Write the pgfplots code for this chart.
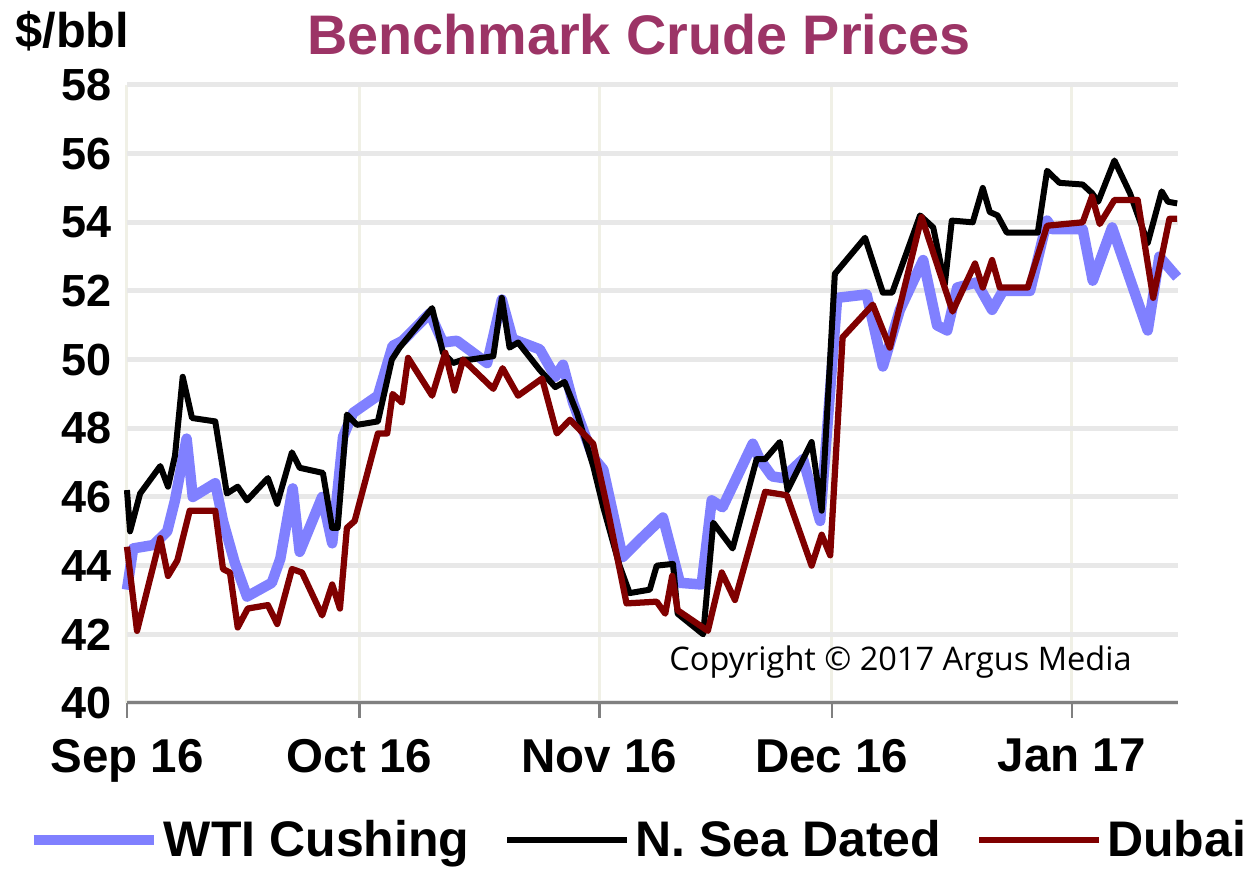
\documentclass[border=0pt]{standalone}
\usepackage{pgfplots}
\pgfplotsset{compat=1.18}
\usepackage{fontspec}
\setmainfont{Liberation Sans}
\newfontfamily\cfont{Open Sans}
\definecolor{wticol}{HTML}{8080FF}
\definecolor{dubcol}{HTML}{800000}
\definecolor{titlecol}{HTML}{9C3466}
\definecolor{hgrid}{HTML}{E8E8E8}
\definecolor{vgrid}{HTML}{F0F0E6}

% x = days since 1 Sep 2016
\pgfplotstableread{
x y
0.0 43.3
0.8 44.5
3.4 44.6
5.2 45.0
6.2 45.9
7.7 47.7
8.5 46.0
11.4 46.4
12.4 45.3
13.9 44.1
15.5 43.1
18.7 43.5
19.8 44.2
21.4 46.25
22.3 44.4
25.2 46.0
26.5 44.65
27.9 47.75
29.2 48.45
32.4 48.95
34.3 50.4
35.6 50.55
39.1 51.35
40.8 50.5
42.6 50.55
46.5 49.9
48.4 51.75
49.8 50.6
53.3 50.3
55.3 49.5
56.3 49.85
57.6 48.75
60.2 47.15
61.5 46.8
64.0 44.25
66.2 44.75
69.2 45.4
71.4 43.5
74.2 43.45
75.5 45.9
76.9 45.7
80.8 47.55
81.7 47.1
83.3 46.6
84.7 46.55
87.3 47.1
89.5 45.3
91.7 51.8
95.5 51.9
97.6 49.8
99.8 51.45
102.8 52.9
104.6 51.0
105.9 50.85
107.2 52.1
109.7 52.25
111.7 51.45
113.1 52.0
116.6 52.0
118.8 54.05
119.5 53.8
123.4 53.8
124.7 52.3
127.2 53.85
131.8 50.85
133.3 53.0
135.6 52.4
}\wti

\pgfplotstableread{
x y
0.0 46.2
0.4 45.0
1.7 46.1
4.3 46.9
5.3 46.3
6.2 47.2
7.2 49.5
8.4 48.3
11.4 48.2
12.9 46.1
14.3 46.3
15.5 45.9
18.2 46.55
19.4 45.8
21.3 47.3
22.3 46.85
25.3 46.7
26.5 45.1
27.2 45.1
28.4 48.4
29.7 48.1
32.4 48.2
34.2 50.0
35.2 50.35
39.4 51.5
40.8 50.2
42.1 49.9
43.4 50.0
44.3 50.0
47.3 50.1
48.4 51.8
49.4 50.35
50.5 50.5
53.3 49.7
55.3 49.2
56.5 49.35
58.1 48.45
60.2 46.9
61.5 45.7
63.6 44.0
64.9 43.2
67.5 43.3
68.4 44.0
70.5 44.05
71.1 42.6
74.4 42.0
75.7 45.25
78.2 44.5
81.3 47.1
82.4 47.1
84.3 47.6
85.3 46.2
88.4 47.6
89.7 45.6
91.4 52.5
95.3 53.55
97.6 51.95
98.8 51.95
102.4 54.2
104.1 53.85
105.6 52.2
106.5 54.05
109.2 54.0
110.5 55.0
111.4 54.3
112.4 54.2
113.6 53.7
117.6 53.7
118.8 55.5
120.4 55.15
123.4 55.1
124.6 54.85
125.4 54.6
127.5 55.8
129.5 54.85
131.8 53.4
133.6 54.9
134.4 54.6
135.6 54.55
}\nsea

\pgfplotstableread{
x y
0.0 44.55
1.3 42.1
4.3 44.8
5.3 43.7
6.5 44.15
8.1 45.6
11.4 45.6
12.4 43.9
13.3 43.8
14.3 42.2
15.6 42.75
18.2 42.85
19.4 42.3
21.3 43.9
22.6 43.8
25.2 42.55
26.5 43.45
27.5 42.75
28.4 45.1
29.4 45.3
32.4 47.85
33.6 47.85
34.3 49.0
35.5 48.75
36.3 50.05
39.4 48.95
41.1 50.2
42.3 49.1
43.4 50.0
47.3 49.15
48.5 49.75
50.5 48.95
53.6 49.45
55.5 47.85
57.2 48.25
60.2 47.55
62.0 45.7
64.5 42.9
68.4 42.95
69.5 42.6
70.4 43.7
71.1 42.7
75.0 42.1
76.8 43.8
78.5 43.0
82.4 46.15
85.2 46.05
88.4 44.0
89.7 44.9
90.8 44.3
92.4 50.65
96.3 51.6
98.5 50.35
102.6 54.15
106.6 51.4
109.5 52.8
110.5 52.1
111.7 52.9
112.7 52.1
116.3 52.1
118.8 53.9
123.4 54.0
124.6 54.75
125.6 53.95
127.5 54.65
130.5 54.65
132.5 51.8
134.6 54.1
135.6 54.1
}\dubai

\begin{document}
\begin{tikzpicture}
\begin{axis}[
    scale only axis,
    width=420.4pt,
    height=247.2pt,
    xmin=0, xmax=135.7,
    ymin=40, ymax=58,
    xtick={0,30,61,91,122},
    xticklabels={Sep 16,Oct 16,Nov 16,Dec 16,Jan 17},
    ytick={40,42,...,58},
    xtick pos=bottom,
    ytick pos=left,
    tick align=outside,
    major tick length=6pt,
    xtick style={draw=gray, line width=1pt},
    ytick style={draw=none},
    axis line style={draw=none},
    grid=major,
    x grid style={vgrid, line width=1.2pt},
    y grid style={hgrid, line width=2pt},
    /pgf/number format/assume math mode=true,
    xticklabel style={font=\bfseries\fontsize{19}{19}\selectfont, yshift=-5pt},
    yticklabel style={font=\bfseries\fontsize{18}{18}\selectfont, xshift=3.5pt},
    clip=false,
    legend columns=3,
    legend style={at={(axis description cs:0.488,-0.222)}, anchor=center,
        draw=none, fill=none, inner sep=0pt, font=\bfseries\fontsize{20}{20}\selectfont,
        /tikz/every even column/.append style={column sep=12pt}},
    legend image code/.code={\draw[#1] (0pt,0pt) -- (48pt,0pt);},
    line join=round,
]
\addplot[wticol, line width=4.2pt, no marks] table[x=x,y=y] {\wti};
\addplot[black, line width=2.4pt, no marks] table[x=x,y=y] {\nsea};
\addplot[dubcol, line width=2.5pt, no marks] table[x=x,y=y] {\dubai};
\legend{WTI Cushing, N. Sea Dated, Dubai}
\draw[gray, line width=1.2pt] (axis description cs:0,0) -- (axis description cs:1,0);
\node[anchor=base, inner sep=0pt, font=\bfseries\fontsize{22.3}{22.3}\selectfont, text=titlecol] at (axis description cs:0.487,1.0485) {Benchmark Crude Prices};
\node[anchor=base, inner sep=0pt, font=\bfseries\fontsize{19.5}{19.5}\selectfont] at (axis description cs:-0.052,1.06) {\$/bbl};
\node[font=\cfont\fontsize{13}{13}\selectfont] at (axis description cs:0.736,0.066) {Copyright © 2017 Argus Media};
\path (axis description cs:-0.1208,-0.2702) rectangle (axis description cs:1.0733,1.1375);
\end{axis}
\end{tikzpicture}
\end{document}
